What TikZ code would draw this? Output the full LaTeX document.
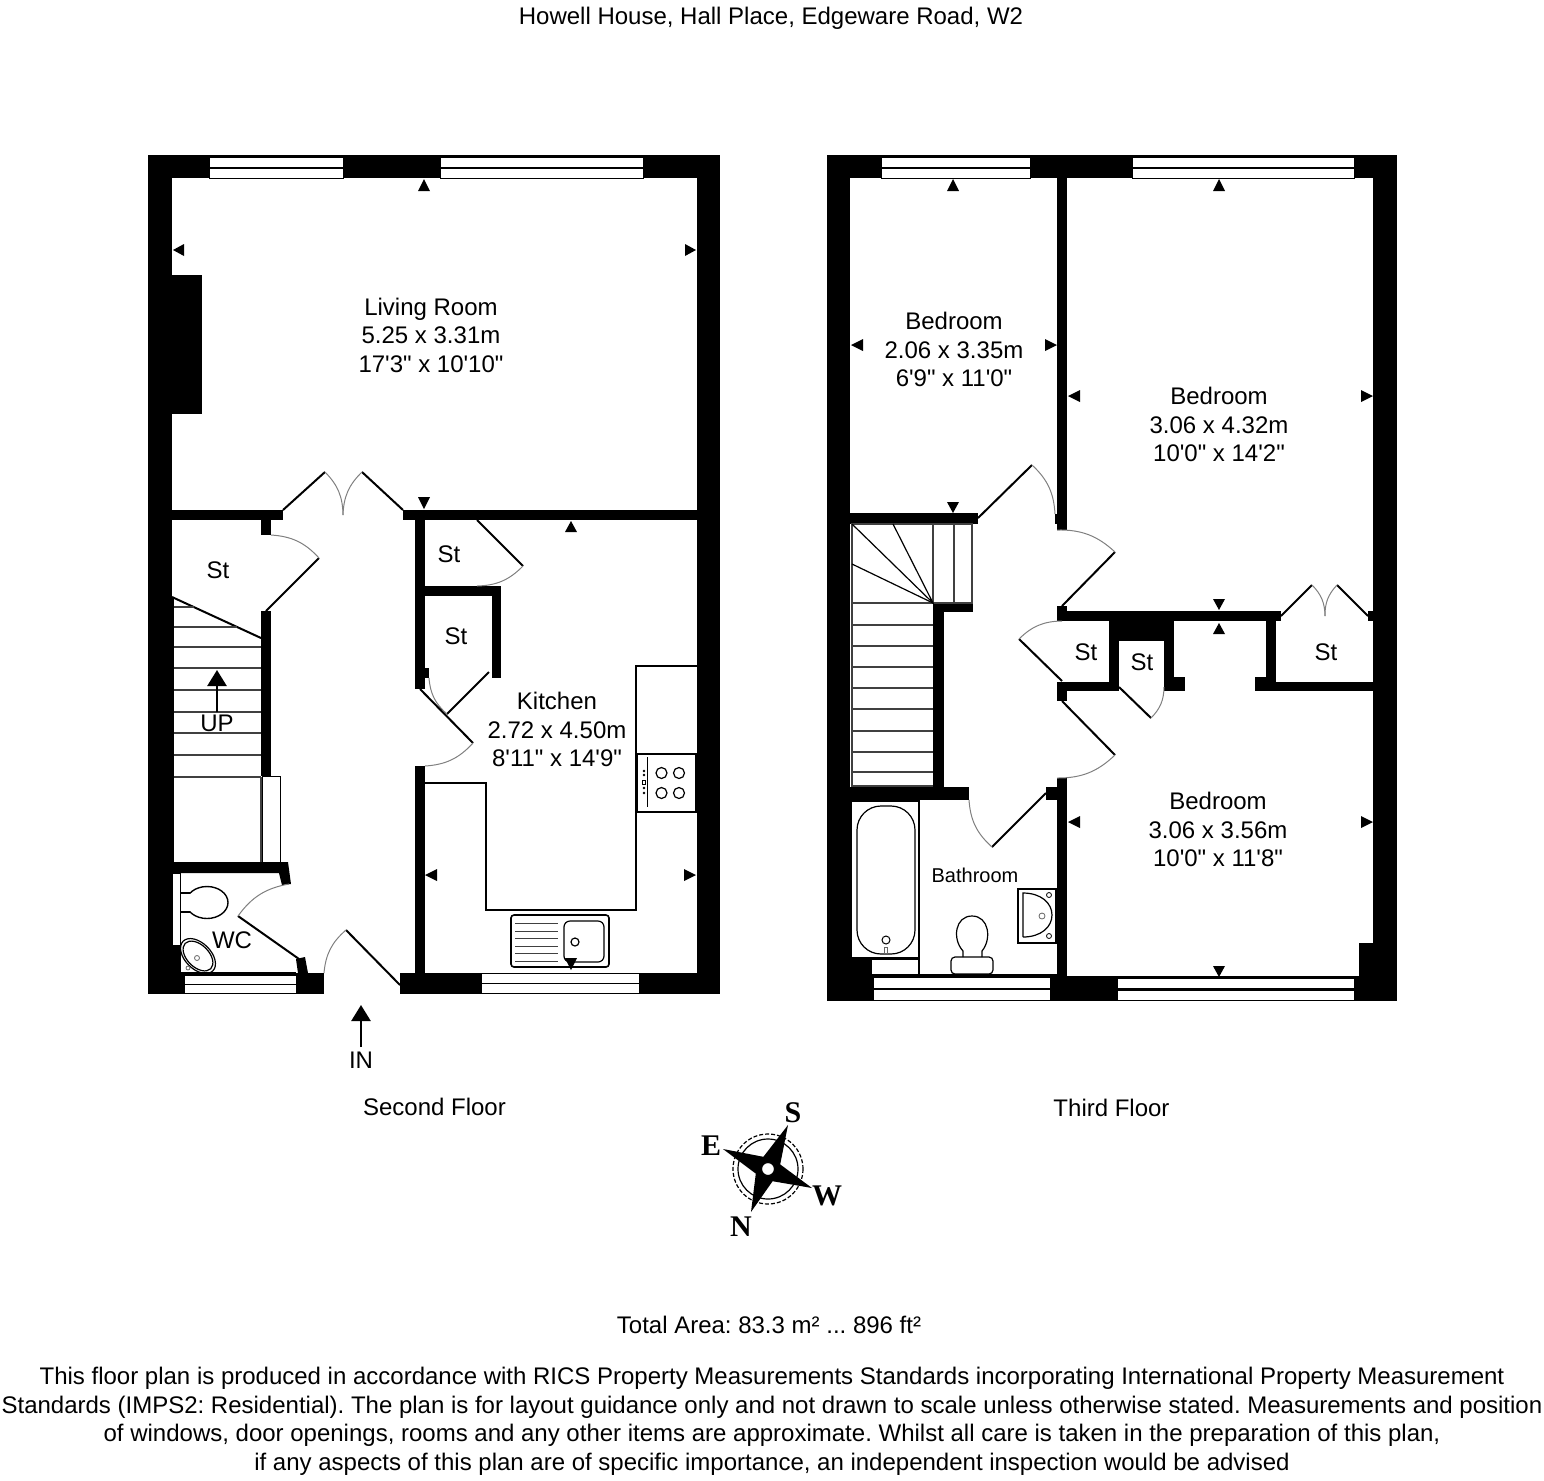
\documentclass[tikz,border=0pt]{standalone}
\usepackage{fontspec}
\usepackage{xcolor}
\usepackage{tikz}
\usetikzlibrary{arrows.meta}
\setmainfont{Liberation Sans}
\newfontfamily\planfont{Liberation Sans}
\newfontfamily\compassfont{Liberation Serif}
\frenchspacing
\tikzset{
    wall/.style={fill=black, draw=none},
    pane/.style={fill=white, draw=black, line width=0.5pt},
    leaf/.style={draw=black, line width=1pt},
    swing/.style={draw=black!50, line width=0.5pt},
    fitting/.style={draw=black, line width=0.6pt},
    tread/.style={draw=black!75, line width=0.6pt},
    label/.style={font=\planfont\fontsize{12}{14.25}\selectfont, align=center, inner sep=0pt},
    smalllabel/.style={font=\planfont\fontsize{10}{12}\selectfont, inner sep=0pt},
    pointlabel/.style={font=\compassfont\bfseries\fontsize{15}{15}\selectfont, inner sep=0pt}
}
\begin{document}
\begin{tikzpicture}[x=0.5pt, y=-0.5pt]
    \useasboundingbox (0,0) rectangle (1544,1480);
    % Title
    \node[label] (title) at (771,18) {Howell House, Hall Place, Edgeware Road, W2};

    % Second floor outer walls
    \fill[wall] (148,155) rectangle (172,994);
    \fill[wall] (148,155) rectangle (720,178);
    \fill[wall] (697,155) rectangle (720,994);
    \fill[wall] (148,973) rectangle (324,994);
    \fill[wall] (400,973) rectangle (720,994);
    \fill[wall] (172,275) rectangle (202,414);
    \fill[wall] (172,597) rectangle (174,862);
    % Second floor inner walls
    \fill[wall] (172,510) rectangle (283,520);
    \fill[wall] (261,520) rectangle (271,535);
    \fill[wall] (261,611) rectangle (271,776);
    \fill[wall] (403,510) rectangle (697,520);
    \fill[wall] (415,520) rectangle (425,689);
    \fill[wall] (425,668) rectangle (429,678);
    \fill[wall] (425,586) rectangle (501,596);
    \fill[wall] (492,596) rectangle (501,678);
    \fill[wall] (415,766) rectangle (425,973);
    \fill[wall] (172,862) -- (288,862) -- (291,884) -- (282,885) -- (279,873) -- (172,873) -- cycle;
    \fill[wall] (296,959) -- (305,957) -- (308,973) -- (298,973) -- cycle;
    \fill[wall] (172,945) rectangle (181,973);
    % Second floor windows
    \draw[pane] (209,157) rectangle (343,167);
    \draw[pane] (209,168) rectangle (343,178);
    \draw[pane] (440,157) rectangle (643,167);
    \draw[pane] (440,168) rectangle (643,178);
    \draw[pane] (184,975) rectangle (296,984);
    \draw[pane] (184,984) rectangle (296,993);
    \draw[pane] (481,973) rectangle (639,983);
    \draw[pane] (481,983) rectangle (639,993);
    % Second floor doors
    \draw[leaf] (283,510) -- (325,472);
    \draw[leaf] (362,472) -- (403,510);
    \draw[swing] (325,472) to[bend left=22] (343,515);
    \draw[swing] (362,472) to[bend right=22] (343,515);
    \draw[leaf] (266,611) -- (319,558);
    \draw[swing] (271,535) to[bend left=22] (319,558);
    \draw[leaf] (477,520) -- (523,566);
    \draw[swing] (523,566) to[bend left=22] (477,586);
    \draw[leaf] (489,672) -- (447,714);
    \draw[swing] (429,678) to[bend right=22] (447,714);
    \draw[leaf] (420,689) -- (473,743);
    \draw[swing] (473,743) to[bend left=22] (425,766);
    \draw[leaf] (238,916) -- (299,959);
    \draw[swing] (289,884) to[bend right=22] (238,916);
    \draw[leaf] (346,930) -- (400,985);
    \draw[swing] (346,930) to[bend right=22] (324,973);
    % Second floor stairs
    \draw[leaf] (172,597) -- (261,638);
    \draw[tread] (174,607) -- (194,607) (174,627) -- (237,627) (174,647) -- (261,647);
    \draw[tread] (174,668) -- (261,668) (174,690) -- (261,690) (174,712) -- (261,712);
    \draw[tread] (174,733) -- (261,733) (174,755) -- (261,755) (174,777) -- (261,777);
    \draw[tread] (261,777) -- (261,862);
    \draw[pane] (262,776) rectangle (280,862);
    \draw[-{Triangle[length=8pt,width=9.5pt]}, line width=1.25pt] (217,712) -- (217,670);
    % WC fittings
    \draw[pane] (172,873) rectangle (180,945);
    \draw[fitting] (180,893) -- (191,893);
    \draw[fitting] (180,912) -- (191,912);
    \draw[fill=white, line width=0.7pt] (207,902.5) ellipse [x radius=21, y radius=16];
    \fill[white] (181,894) rectangle (192,911);
    \draw[fitting, rotate around={-45:(198,956)}] (198,956) ellipse [x radius=21, y radius=13];
    \draw[fitting, rotate around={-45:(198,956)}] (198,956) ellipse [x radius=18, y radius=11];
    \draw[draw=black!60, line width=0.4pt] (197,958) circle [radius=2.5];
    \draw[draw=black!60, line width=0.4pt] (188,968) circle [radius=2];
    \draw[fitting] (181,973) -- (296,973);
    % Kitchen fittings
    \draw[fitting] (425,783) -- (486,783) -- (486,910) -- (636,910) -- (636,666) -- (697,666);
    \draw[fitting, fill=white, line width=0.8pt] (637,754) rectangle (696,812);
    \draw[fitting] (647.5,757) -- (647.5,807);
    \draw[fitting] (661.5,773) circle [radius=5.5];
    \draw[fitting] (679,773) circle [radius=5.5];
    \draw[fitting] (661.5,793) circle [radius=5.5];
    \draw[fitting] (679,793) circle [radius=5.5];
    \fill[black] (644,771) circle [radius=1.4];
    \fill[black] (644,775) circle [radius=1.4];
    \draw[line width=0.3pt] (642.5,780.5) rectangle (645.5,784);
    \fill[black] (644,788) circle [radius=1.4];
    \fill[black] (644,793) circle [radius=1.4];
    \draw[fitting, fill=white, rounded corners=1.5pt, line width=0.8pt] (511,915) rectangle (609,967);
    \draw[tread, line width=0.5pt] (515,923) -- (558,923) (515,931) -- (558,931) (515,938) -- (558,938);
    \draw[tread, line width=0.5pt] (515,946) -- (558,946) (515,953) -- (558,953) (515,961) -- (558,961);
    \draw[fitting, rounded corners=3pt] (564,921) rectangle (604,962);
    \draw[fitting] (575,942) circle [radius=4];

    % Third floor outer walls
    \fill[wall] (827,155) rectangle (850,1001);
    \fill[wall] (827,155) rectangle (1397,178);
    \fill[wall] (1373,155) rectangle (1397,1001);
    \fill[wall] (827,976) rectangle (1397,1001);
    \fill[wall] (1359,943) rectangle (1373,976);
    % Third floor inner walls
    \fill[wall] (1057,178) rectangle (1067,530);
    \fill[wall] (1055,514) rectangle (1057,524);
    \fill[wall] (850,513) rectangle (978,524);
    \fill[wall] (933,603) rectangle (973,612);
    \fill[wall] (933,603) rectangle (944,800);
    \fill[wall] (850,787) rectangle (969,800);
    \fill[wall] (1046,787) rectangle (1057,800);
    \fill[wall] (1057,778) rectangle (1067,976);
    \fill[wall] (1057,606) rectangle (1067,621);
    \fill[wall] (1057,611) rectangle (1281,621);
    \fill[wall] (1109,611) rectangle (1174,641);
    \fill[wall] (1109,611) rectangle (1119,691);
    \fill[wall] (1164,611) rectangle (1174,691);
    \fill[wall] (1164,677) rectangle (1185,691);
    \fill[wall] (1057,682) rectangle (1119,691);
    \fill[wall] (1057,682) rectangle (1067,701);
    \fill[wall] (1266,621) rectangle (1276,691);
    \fill[wall] (1255,677) rectangle (1276,691);
    \fill[wall] (1276,682) rectangle (1373,691);
    \fill[wall] (1368,611) rectangle (1373,621);
    % Third floor windows
    \draw[pane] (881,157) rectangle (1030,167);
    \draw[pane] (881,168) rectangle (1030,178);
    \draw[pane] (1132,157) rectangle (1354,167);
    \draw[pane] (1132,168) rectangle (1354,178);
    \draw[pane] (873,977) rectangle (1050,988);
    \draw[pane] (873,989) rectangle (1050,1000);
    \draw[pane] (1117,978) rectangle (1354,988);
    \draw[pane] (1117,990) rectangle (1354,1000);
    % Third floor doors
    \draw[leaf] (978,518) -- (1032,465);
    \draw[swing] (1032,465) to[bend left=22] (1055,514);
    \draw[leaf] (1115,552) -- (1062,606);
    \draw[swing] (1057,530) to[bend left=22] (1115,552);
    \draw[leaf] (1062,681) -- (1019,639);
    \draw[swing] (1019,639) to[bend left=22] (1062,621);
    \draw[leaf] (1119,687) -- (1151,718);
    \draw[swing] (1151,718) to[bend right=22] (1164,687);
    \draw[leaf] (1062,701) -- (1115,755);
    \draw[swing] (1115,755) to[bend left=22] (1057,778);
    \draw[leaf] (992,847) -- (1046,793);
    \draw[swing] (969,800) to[bend right=22] (992,847);
    \draw[leaf] (1281,616) -- (1312,585);
    \draw[leaf] (1337,585) -- (1368,616);
    \draw[swing] (1312,585) to[bend left=22] (1325,616);
    \draw[swing] (1337,585) to[bend right=22] (1325,616);
    % Third floor stairs
    \draw[tread] (852,524) rectangle (972,603);
    \draw[tread] (933,524) -- (933,603) (954,524) -- (954,603);
    \draw[fitting] (852,524) -- (933,603) -- (893,524);
    \draw[fitting] (852,564) -- (933,603);
    \draw[tread] (852,603) -- (852,786) -- (933,786);
    \draw[tread] (852,625) -- (933,625) (852,646) -- (933,646) (852,667) -- (933,667);
    \draw[tread] (852,688) -- (933,688) (852,709) -- (933,709) (852,731) -- (933,731);
    \draw[tread] (852,752) -- (933,752) (852,772) -- (933,772);
    % Bathroom fittings
    \draw[pane, line width=0.6pt] (851,801) rectangle (919,958);
    \draw[fitting, rounded corners=12pt] (857,806) rectangle (915,954);
    \draw[fitting, line width=0.5pt] (886,940) circle [radius=4];
    \draw[draw=black!60, line width=0.3pt] (884.5,947) rectangle (887.5,953);
    \draw[pane, line width=0.6pt] (851,959) rectangle (919,975);
    \fill[wall] (851,959) rectangle (872,975);
    \draw[fitting] (919,959) -- (919,975) -- (1057,975);
    \draw[fitting, rounded corners=2pt] (951,957) rectangle (993,974);
    \draw[fitting] (963,957) -- (963,951) .. controls (952,939) and (955,916) .. (972,916) .. controls (989,916) and (992,939) .. (982,951) -- (982,957);
    \draw[fitting, line width=0.8pt] (1018,889) rectangle (1056,943);
    \draw[fitting] (1023,937) -- (1023,893) .. controls (1041,893) and (1052,903) .. (1052,915) .. controls (1052,927) and (1041,937) .. (1023,937);
    \draw[fitting, line width=0.4pt] (1049,895) circle [radius=2.5];
    \draw[fitting, line width=0.4pt] (1049,936) circle [radius=2.5];
    \draw[draw=black!60, line width=0.4pt] (1042,916) circle [radius=3];

    % Measure points second floor
    \fill[black] (424,179) -- (418,191) -- (430,191) -- cycle;
    \fill[black] (173,250) -- (184,244) -- (184,256) -- cycle;
    \fill[black] (696,250) -- (685,244) -- (685,256) -- cycle;
    \fill[black] (424,509) -- (418,497) -- (430,497) -- cycle;
    \fill[black] (571,521) -- (565,532) -- (577,532) -- cycle;
    \fill[black] (425,875) -- (437,869) -- (437,881) -- cycle;
    \fill[black] (696,875) -- (684,869) -- (684,881) -- cycle;
    \fill[black] (571,970) -- (565,958) -- (577,958) -- cycle;
    % Measure points third floor
    \fill[black] (953,179) -- (947,191) -- (959,191) -- cycle;
    \fill[black] (851,345) -- (863,339) -- (863,351) -- cycle;
    \fill[black] (1057,345) -- (1045,339) -- (1045,351) -- cycle;
    \fill[black] (953,513) -- (947,502) -- (959,502) -- cycle;
    \fill[black] (1219,179) -- (1213,191) -- (1225,191) -- cycle;
    \fill[black] (1068,396) -- (1080,390) -- (1080,402) -- cycle;
    \fill[black] (1373,396) -- (1361,390) -- (1361,402) -- cycle;
    \fill[black] (1219,610) -- (1213,599) -- (1225,599) -- cycle;
    \fill[black] (1219,623) -- (1213,634) -- (1225,634) -- cycle;
    \fill[black] (1068,822) -- (1080,816) -- (1080,828) -- cycle;
    \fill[black] (1373,822) -- (1361,816) -- (1361,828) -- cycle;
    \fill[black] (1219,977) -- (1213,966) -- (1225,966) -- cycle;

    % Entrance arrow
    \draw[-{Triangle[length=8pt,width=9.5pt]}, line width=1.25pt] (361,1047) -- (361,1005);

    % Room labels
    \node[label] (livinglbl) at (431,335) {Living Room\\5.25 x 3.31m\\17'3" x 10'10"};
    \node[label] (kitchenlbl) at (557,729.5) {Kitchen\\2.72 x 4.50m\\8'11" x 14'9"};
    \node[label] (stone) at (218,570) {St};
    \node[label] (sttwo) at (449,554) {St};
    \node[label] (stthree) at (456,636) {St};
    \node[label] (uplbl) at (217,723) {UP};
    \node[label] (wclbl) at (232,940) {WC};
    \node[label] (inlbl) at (361,1060) {IN};
    \node[label] (secondlbl) at (434.5,1107) {Second Floor};
    \node[label] (bedonelbl) at (954,349.5) {Bedroom\\2.06 x 3.35m\\6'9" x 11'0"};
    \node[label] (bedtwolbl) at (1219,424.5) {Bedroom\\3.06 x 4.32m\\10'0" x 14'2"};
    \node[label] (bedthreelbl) at (1218,829.5) {Bedroom\\3.06 x 3.56m\\10'0" x 11'8"};
    \node[label] (stfour) at (1086,652) {St};
    \node[label] (stfive) at (1142,662) {St};
    \node[label] (stsix) at (1326,652) {St};
    \node[smalllabel] (bathlbl) at (975,875) {Bathroom};
    \node[label] (thirdlbl) at (1111.5,1108) {Third Floor};

    % Compass
    \draw[line width=0.6pt] (768,1169) circle [radius=30];
    \draw[line width=0.6pt, dash pattern=on 2pt off 1pt] (768,1169) circle [radius=35];
    \fill[black] (788,1125) -- (780.2,1164.4) -- (812,1188) -- (772.6,1181.2) -- (751,1212) -- (755.8,1173.6) -- (723,1149) -- (763.4,1156.8) -- cycle;
    \draw[fill=white, line width=0.6pt] (768,1169) circle [radius=6.5];
    \node[pointlabel] (southlbl) at (793,1113) {S};
    \node[pointlabel] (eastlbl) at (711,1146) {E};
    \node[pointlabel] (westlbl) at (827,1196) {W};
    \node[pointlabel] (northlbl) at (741,1227) {N};

    % Footer
    \node[label] (arealbl) at (769,1325) {Total Area: 83.3 m² ... 896 ft²};
    \node[label] (disclaimer) at (772,1421.5) {This floor plan is produced in accordance with RICS Property Measurements Standards incorporating International Property Measurement\\Standards (IMPS2: Residential). The plan is for layout guidance only and not drawn to scale unless otherwise stated. Measurements and position\\of windows, door openings, rooms and any other items are approximate. Whilst all care is taken in the preparation of this plan,\\if any aspects of this plan are of specific importance, an independent inspection would be advised};
\end{tikzpicture}
\end{document}
